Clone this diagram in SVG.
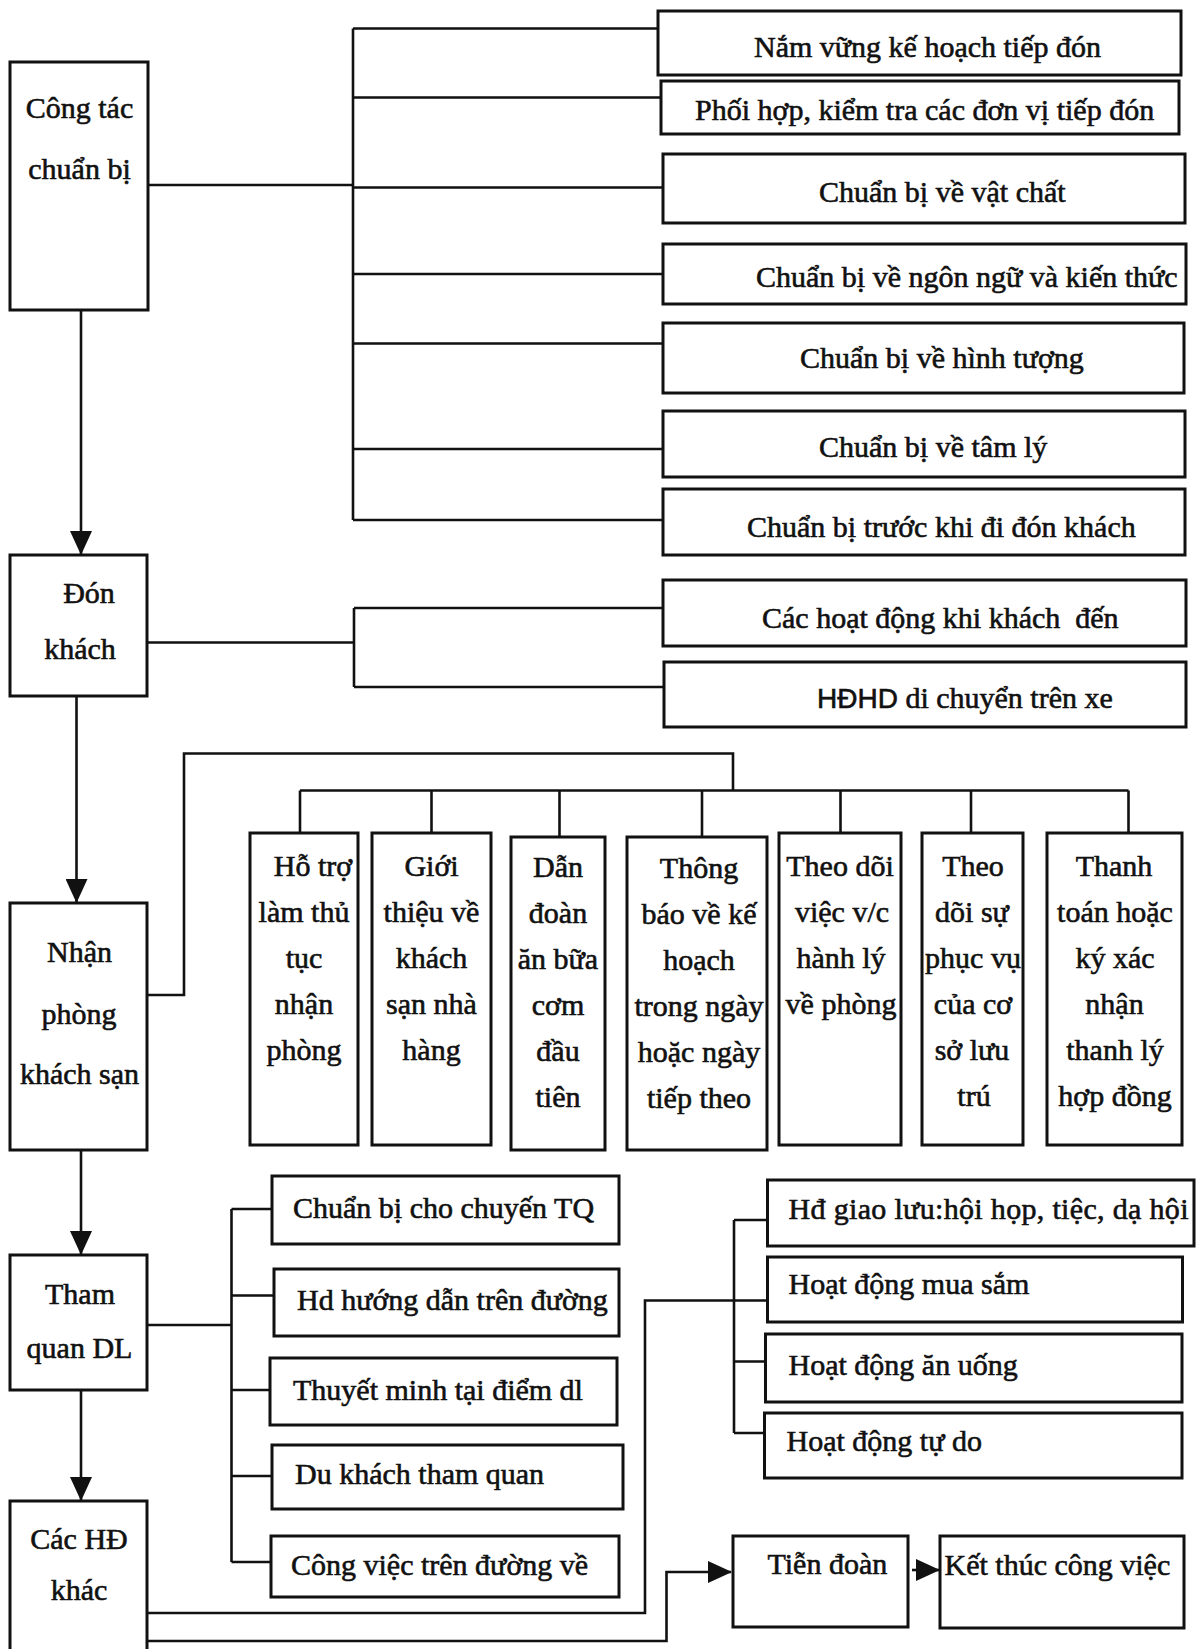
<svg xmlns="http://www.w3.org/2000/svg" width="1197" height="1649" viewBox="0 0 1197 1649">
  <style>
    .box { fill: #ffffff; stroke: #111111; stroke-width: 3; }
    .c { fill: none; stroke: #111111; stroke-width: 2.6; stroke-linejoin: miter; }
    .t { font-family: "Liberation Serif", "Times New Roman", serif; font-size: 30px; fill: #111111; stroke: #111111; stroke-width: 0.6; }
    .m { text-anchor: middle; }
    .sans { font-family: "Liberation Sans", Arial, sans-serif; font-size: 28px; }
  </style>
  <defs>
    <marker id="arrow" markerUnits="userSpaceOnUse" markerWidth="24" markerHeight="22" refX="23" refY="11" orient="auto">
      <path d="M0,0 L24,11 L0,22 z" fill="#111111"/>
    </marker>
  </defs>
  <rect width="1197" height="1649" fill="#ffffff"/>

  <!-- connectors -->
  <g id="connectors">
    <!-- main flow down the left side -->
    <line class="c" x1="81" y1="310" x2="81" y2="554" marker-end="url(#arrow)"/>
    <line class="c" x1="76.5" y1="696" x2="76.5" y2="902" marker-end="url(#arrow)"/>
    <line class="c" x1="81" y1="1150" x2="81" y2="1254" marker-end="url(#arrow)"/>
    <line class="c" x1="81" y1="1390" x2="81" y2="1500" marker-end="url(#arrow)"/>

    <!-- preparation tasks -->
    <path class="c" d="M148,185 H353"/>
    <path class="c" d="M353,28.5 V520"/>
    <path class="c" d="M353,28.5 H658 M353,97.5 H661 M353,187.5 H663 M353,274 H663 M353,343.5 H663 M353,449 H663 M353,520 H663"/>

    <!-- welcoming tasks -->
    <path class="c" d="M147,642.5 H354 M354,608 V687 M354,608 H663 M354,687 H664"/>

    <!-- hotel check-in tasks -->
    <path class="c" d="M147,995 H184 V753.5 H733 V790.5"/>
    <path class="c" d="M300,790.5 H1128.5"/>
    <path class="c" d="M300,790.5 V833 M431.5,790.5 V833 M559.5,790.5 V837 M702,790.5 V837 M840.5,790.5 V833 M971,790.5 V833 M1128.5,790.5 V833"/>

    <!-- sightseeing tasks -->
    <path class="c" d="M147,1325 H231.5 M231.5,1209 V1562"/>
    <path class="c" d="M231.5,1209 H272 M231.5,1295.5 H274 M231.5,1390 H270 M231.5,1476 H272 M231.5,1562 H271"/>

    <!-- other activities -->
    <path class="c" d="M147,1613 H645 V1300.5 H767.5"/>
    <path class="c" d="M734,1220 V1433 M734,1220 H767.5 M734,1361.5 H765.5 M734,1433 H764.5"/>

    <!-- closing steps -->
    <path class="c" d="M147,1641 H666.5 V1572 H731" marker-end="url(#arrow)"/>
    <line class="c" x1="912" y1="1570" x2="939" y2="1570" marker-end="url(#arrow)"/>
  </g>

  <!-- main stages -->
  <g id="n-congtac">
    <rect class="box" x="10" y="62" width="138" height="248"/>
    <text class="t m" x="79.5" y="118">Công tác</text>
    <text class="t m" x="79.5" y="179">chuẩn bị</text>
  </g>
  <g id="n-donkhach">
    <rect class="box" x="10" y="555" width="137" height="141"/>
    <text class="t m" x="89" y="603">Đón</text>
    <text class="t m" x="80" y="659">khách</text>
  </g>
  <g id="n-nhanphong">
    <rect class="box" x="10" y="903" width="137" height="247"/>
    <text class="t m" x="79.5" y="962">Nhận</text>
    <text class="t m" x="79" y="1024">phòng</text>
    <text class="t m" x="79.5" y="1084">khách sạn</text>
  </g>
  <g id="n-thamquan">
    <rect class="box" x="10" y="1255" width="137" height="135"/>
    <text class="t m" x="80" y="1304">Tham</text>
    <text class="t m" x="79.5" y="1358">quan DL</text>
  </g>
  <g id="n-cachd">
    <rect class="box" x="10" y="1501" width="137" height="170"/>
    <text class="t m" x="79" y="1549">Các HĐ</text>
    <text class="t m" x="79" y="1600">khác</text>
  </g>

  <!-- preparation tasks -->
  <g id="p1">
    <rect class="box" x="658" y="11" width="523" height="64"/>
    <text class="t" x="754" y="57">Nắm vững kế hoạch tiếp đón</text>
  </g>
  <g id="p2">
    <rect class="box" x="661" y="81" width="518" height="53"/>
    <text class="t" x="695" y="120">Phối hợp, kiểm tra các đơn vị tiếp đón</text>
  </g>
  <g id="p3">
    <rect class="box" x="663" y="154" width="522" height="69"/>
    <text class="t" x="819" y="202">Chuẩn bị về vật chất</text>
  </g>
  <g id="p4">
    <rect class="box" x="663" y="244" width="523" height="60"/>
    <text class="t" x="756" y="287">Chuẩn bị về ngôn ngữ và kiến thức</text>
  </g>
  <g id="p5">
    <rect class="box" x="663" y="323" width="521" height="70"/>
    <text class="t" x="800" y="368">Chuẩn bị về hình tượng</text>
  </g>
  <g id="p6">
    <rect class="box" x="663" y="411" width="522" height="66"/>
    <text class="t" x="819" y="457">Chuẩn bị về tâm lý</text>
  </g>
  <g id="p7">
    <rect class="box" x="663" y="489" width="522" height="66"/>
    <text class="t" x="747" y="537">Chuẩn bị trước khi đi đón khách</text>
  </g>

  <!-- welcoming tasks -->
  <g id="d1">
    <rect class="box" x="663" y="580" width="523" height="66"/>
    <text class="t" x="762" y="628" xml:space="preserve">Các hoạt động khi khách  đến</text>
  </g>
  <g id="d2">
    <rect class="box" x="664" y="662" width="522" height="65"/>
    <text class="t" x="817" y="708"><tspan class="sans">HĐHD</tspan> di chuyển trên xe</text>
  </g>

  <!-- hotel check-in tasks -->
  <g id="h1">
    <rect class="box" x="250" y="833" width="108" height="312"/>
    <text class="t m" x="304" y="876"><tspan x="313">Hỗ trợ</tspan><tspan x="304" dy="46">làm thủ</tspan><tspan x="304" dy="46">tục</tspan><tspan x="304" dy="46">nhận</tspan><tspan x="304" dy="46">phòng</tspan></text>
  </g>
  <g id="h2">
    <rect class="box" x="372" y="833" width="119" height="312"/>
    <text class="t m" x="431.5" y="876"><tspan x="431.5">Giới</tspan><tspan x="431.5" dy="46">thiệu về</tspan><tspan x="431.5" dy="46">khách</tspan><tspan x="431.5" dy="46">sạn nhà</tspan><tspan x="431.5" dy="46">hàng</tspan></text>
  </g>
  <g id="h3">
    <rect class="box" x="511" y="837" width="94" height="313"/>
    <text class="t m" x="558" y="877"><tspan x="558">Dẫn</tspan><tspan x="558" dy="46">đoàn</tspan><tspan x="558" dy="46">ăn bữa</tspan><tspan x="558" dy="46">cơm</tspan><tspan x="558" dy="46">đầu</tspan><tspan x="558" dy="46">tiên</tspan></text>
  </g>
  <g id="h4">
    <rect class="box" x="627" y="837" width="140" height="313"/>
    <text class="t m" x="699" y="878"><tspan x="699">Thông</tspan><tspan x="699" dy="46">báo về kế</tspan><tspan x="699" dy="46">hoạch</tspan><tspan x="699" dy="46">trong ngày</tspan><tspan x="699" dy="46">hoặc ngày</tspan><tspan x="699" dy="46">tiếp theo</tspan></text>
  </g>
  <g id="h5">
    <rect class="box" x="779" y="833" width="122" height="312"/>
    <text class="t m" x="841" y="876"><tspan x="840">Theo dõi</tspan><tspan x="842" dy="46">việc v/c</tspan><tspan x="841" dy="46">hành lý</tspan><tspan x="841" dy="46">về phòng</tspan></text>
  </g>
  <g id="h6">
    <rect class="box" x="922" y="833" width="101" height="312"/>
    <text class="t m" x="973" y="876"><tspan x="973">Theo</tspan><tspan x="972" dy="46">dõi sự</tspan><tspan x="973" dy="46">phục vụ</tspan><tspan x="973" dy="46">của cơ</tspan><tspan x="972" dy="46">sở lưu</tspan><tspan x="974" dy="46">trú</tspan></text>
  </g>
  <g id="h7">
    <rect class="box" x="1047" y="833" width="135" height="312"/>
    <text class="t m" x="1115" y="876"><tspan x="1114">Thanh</tspan><tspan x="1115" dy="46">toán hoặc</tspan><tspan x="1115" dy="46">ký xác</tspan><tspan x="1114.5" dy="46">nhận</tspan><tspan x="1115" dy="46">thanh lý</tspan><tspan x="1115" dy="46">hợp đồng</tspan></text>
  </g>

  <!-- sightseeing tasks -->
  <g id="s1">
    <rect class="box" x="272" y="1176" width="347" height="68"/>
    <text class="t" x="293" y="1218">Chuẩn bị cho chuyến TQ</text>
  </g>
  <g id="s2">
    <rect class="box" x="274" y="1269" width="345" height="67"/>
    <text class="t" x="297" y="1310">Hd hướng dẫn trên đường</text>
  </g>
  <g id="s3">
    <rect class="box" x="270" y="1358" width="347" height="67"/>
    <text class="t" x="293" y="1400">Thuyết minh tại điểm dl</text>
  </g>
  <g id="s4">
    <rect class="box" x="272" y="1445" width="351" height="64"/>
    <text class="t" x="295" y="1484">Du khách tham quan</text>
  </g>
  <g id="s5">
    <rect class="box" x="271" y="1536" width="348" height="61"/>
    <text class="t" x="291" y="1575">Công việc trên đường về</text>
  </g>

  <!-- other activities -->
  <g id="o1">
    <rect class="box" x="767.5" y="1180" width="426.5" height="66"/>
    <text class="t" x="788.5" y="1219" textLength="400">Hđ giao lưu:hội họp, tiệc, dạ hội</text>
  </g>
  <g id="o2">
    <rect class="box" x="767.5" y="1257" width="415" height="65"/>
    <text class="t" x="788.5" y="1294">Hoạt động mua sắm</text>
  </g>
  <g id="o3">
    <rect class="box" x="765.5" y="1334" width="416.5" height="68"/>
    <text class="t" x="788.5" y="1375">Hoạt động ăn uống</text>
  </g>
  <g id="o4">
    <rect class="box" x="764.5" y="1413" width="417.5" height="65"/>
    <text class="t" x="786.5" y="1451">Hoạt động tự do</text>
  </g>

  <!-- closing steps -->
  <g id="e1">
    <rect class="box" x="733" y="1536" width="175" height="91"/>
    <text class="t" x="767.5" y="1574">Tiễn đoàn</text>
  </g>
  <g id="e2">
    <rect class="box" x="940" y="1536" width="244" height="92"/>
    <text class="t" x="944.5" y="1575">Kết thúc công việc</text>
  </g>
</svg>
